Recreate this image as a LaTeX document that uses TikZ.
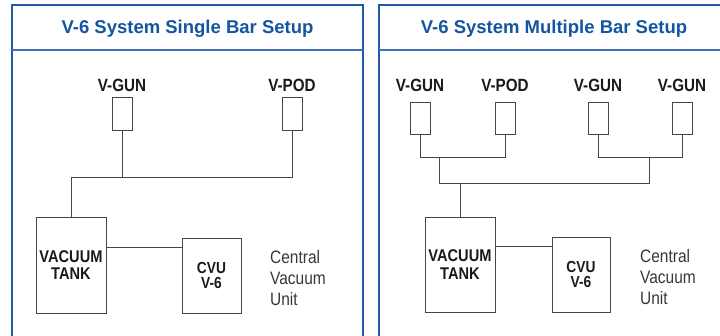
\documentclass[tikz,border=0pt]{standalone}
\usepackage{fontspec}
\setmainfont{Liberation Sans}
\newfontfamily\narrowfont[FakeStretch=0.86]{Liberation Sans}
\usetikzlibrary{positioning, calc}
\definecolor{framecolor}{RGB}{30, 90, 165}
\definecolor{headcolor} {RGB}{60, 115, 185}
\definecolor{titlecolor}{RGB}{20, 85, 160}
\definecolor{boxcolor}  {RGB}{70, 70, 70}
\definecolor{notecolor} {RGB}{55, 55, 55}
\tikzset{
	panel/.style={
		draw=framecolor, line width=1.4pt
	},
	headline/.style={
		draw=headcolor, line width=1.2pt
	},
	paneltitle/.style={
		anchor=base, inner sep=0pt, text=titlecolor,
		font=\bfseries\fontsize{18.5}{20}\selectfont
	},
	toolbox/.style={
		rectangle, draw=boxcolor, line width=0.9pt,
		minimum width=20pt, minimum height=33pt, inner sep=0pt
	},
	toollabel/.style={
		inner sep=0pt, text=black!90,
		font=\narrowfont\bfseries\fontsize{17.7}{18}\selectfont
	},
	tankbox/.style={
		rectangle, draw=boxcolor, line width=0.9pt,
		minimum width=70pt, minimum height=96pt, inner sep=0pt,
		align=center, text=black!90,
		font=\narrowfont\bfseries\fontsize{17}{17.5}\selectfont
	},
	cvubox/.style={
		rectangle, draw=boxcolor, line width=0.9pt,
		minimum width=59pt, minimum height=75pt, inner sep=0pt,
		align=center, text=black!90,
		font=\narrowfont\bfseries\fontsize{16}{15.5}\selectfont
	},
	unitnote/.style={
		anchor=west, inner sep=0pt, align=left, text=notecolor,
		font=\narrowfont\fontsize{18}{21}\selectfont
	},
	pipe/.style={
		draw=boxcolor, line width=0.9pt
	}
}

\begin{document}
\begin{tikzpicture}[x=1pt, y=-1pt]
		\useasboundingbox (0,0) rectangle (720,335);
		\clip (0,0) rectangle (720,335);
		
		%% ═══════════════════════════════
		%%  PANELS
		%% ═══════════════════════════════
		\draw[panel] (12,345) -- (12,5) -- (363,5) -- (363,345);
		\draw[headline] (12,50) -- (363,50);
		\node[paneltitle] (titleA) at (187.5,33) {V-6 System Single Bar Setup};
		
		\draw[panel] (379,345) -- (379,5) -- (740,5);
		\draw[headline] (379,50) -- (740,50);
		\node[paneltitle] (titleB) at (554,33) {V-6 System Multiple Bar Setup};
		
		%% ═══════════════════════════════
		%%  SINGLE BAR
		%% ═══════════════════════════════
		\node[toolbox] (gunA) at (122,113.5) {};
		\node[toolbox] (podA) at (292,113.5) {};
		\node[toollabel, above=4.3pt of gunA] (gunAlbl) {V-GUN};
		\node[toollabel, above=4.3pt of podA] (podAlbl) {V-POD};
		
		\node[tankbox] (tankA) at (71,265)    {VACUUM\\TANK};
		\node[cvubox]  (cvuA)  at (211.5,275.5) {CVU\\V-6};
		\node[unitnote] (noteA) at (270,278)  {Central\\Vacuum\\Unit};
		
		\coordinate (busA) at (71,177);
		
		% Tools → Tank
		\draw[pipe] (gunA.south) |- (busA);
		\draw[pipe] (podA.south) |- (busA);
		\draw[pipe] (busA) -- (tankA.north);
		
		% Tank → CVU
		\draw[pipe] ([yshift=-10pt]cvuA.north west) -- ([yshift=-10pt]cvuA.north west -| tankA.east);
		
		%% ═══════════════════════════════
		%%  MULTIPLE BAR
		%% ═══════════════════════════════
		\node[toolbox, minimum height=32pt] (gunB1) at (420,118) {};
		\node[toolbox, minimum height=32pt] (podB)  at (505,118) {};
		\node[toolbox, minimum height=32pt] (gunB2) at (598,118) {};
		\node[toolbox, minimum height=32pt] (gunB3) at (682,118) {};
		\node[toollabel, above=9.3pt of gunB1] (gunB1lbl) {V-GUN};
		\node[toollabel, above=9.3pt of podB]  (podBlbl)  {V-POD};
		\node[toollabel, above=9.3pt of gunB2] (gunB2lbl) {V-GUN};
		\node[toollabel, above=9.3pt of gunB3] (gunB3lbl) {V-GUN};
		
		\node[tankbox, minimum height=95pt] (tankB) at (460,264.5) {VACUUM\\TANK};
		\node[cvubox, minimum width=58pt] (cvuB) at (581,274.5) {CVU\\V-6};
		\node[unitnote] (noteB) at (640,277) {Central\\Vacuum\\Unit};
		
		\coordinate (pairL) at (439,157);
		\coordinate (pairR) at (649,157);
		\coordinate (busB)  at (460,183);
		
		% Tools → pairs
		\draw[pipe] (gunB1.south) |- (pairL);
		\draw[pipe] (podB.south)  |- (pairL);
		\draw[pipe] (gunB2.south) |- (pairR);
		\draw[pipe] (gunB3.south) |- (pairR);
		
		% Pairs → Tank
		\draw[pipe] (pairL) |- (busB);
		\draw[pipe] (pairR) |- (busB);
		\draw[pipe] (busB) -- (tankB.north);
		
		% Tank → CVU
		\draw[pipe] ([yshift=-10pt]cvuB.north west) -- ([yshift=-10pt]cvuB.north west -| tankB.east);
	\end{tikzpicture}
\end{document}
